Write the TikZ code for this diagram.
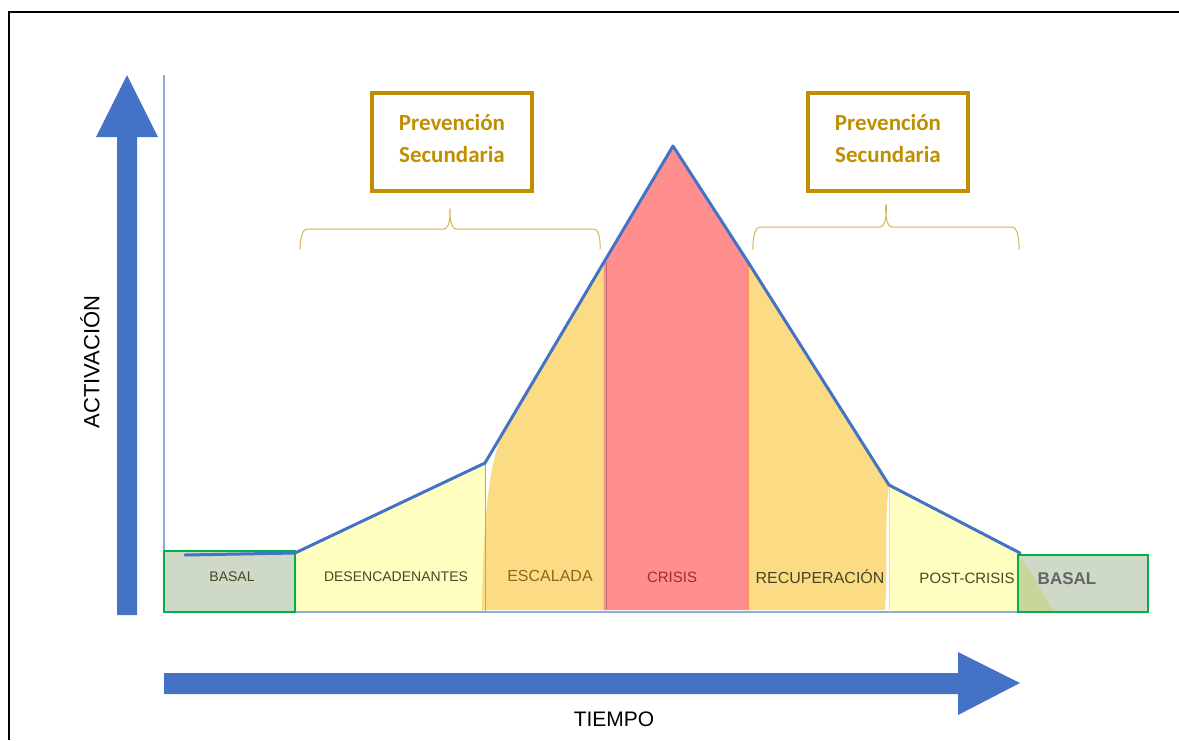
\documentclass[tikz,border=0pt]{standalone}
\usepackage{fontspec}
\setmainfont{Liberation Sans}
\newfontfamily\calibri{Carlito}
\usepackage{tkz-euclide}
\definecolor{ArrowClr}{rgb}{0.267,0.447,0.769}
\definecolor{AxisClr}{rgb}{0.56,0.67,0.86}
\definecolor{BasalClr}{rgb}{0.81,0.85,0.78}
\definecolor{BasalLine}{rgb}{0,0.69,0.31}
\definecolor{MixClr}{rgb}{0.79,0.84,0.6}
\definecolor{PaleClr}{rgb}{1,1,0.76}
\definecolor{WarmClr}{rgb}{0.99,0.86,0.52}
\definecolor{CrisisClr}{rgb}{1,0.56,0.56}
\definecolor{GoldClr}{rgb}{0.75,0.56,0}
\definecolor{BraceClr}{rgb}{0.85,0.7,0.32}
\definecolor{OliveTxt}{rgb}{0.28,0.28,0.14}
\definecolor{WarmTxt}{rgb}{0.52,0.42,0.1}
\definecolor{CrisisTxt}{rgb}{0.62,0.18,0.18}
\definecolor{GrayTxt}{rgb}{0.4,0.4,0.4}

\begin{document}
\begin{tikzpicture}[x=1pt,y=-1pt,
  phase/.style={font=\fontsize{#1}{#1}\selectfont,inner sep=0pt},
  prevbox/.style={draw=GoldClr,line width=4.5pt,minimum width=160pt,minimum height=98pt},
  prevtext/.style={align=center,text=GoldClr,font=\calibri\bfseries\fontsize{23}{32}\selectfont},
  curlyline/.style={BraceClr,line width=1pt}]
\useasboundingbox (0,0) rectangle (1179,740);

% frame
\draw[line width=1.3pt] (9,740) -- (9,12) -- (1179,12);

\tkzDefPoints{185/555/L0,295/553/L1,485/463/K1,604/262/E1,673/146/P,748/262/R1,889/485/K2,1020/553/L2}
\tkzDefPoints{295/612/D0,485/612/D1,604/610/E0,748/610/R0,885/610/Q0,889/612/T0}

% phases
\tkzFillPolygon[fill=PaleClr](L1,K1,D1,D0)
\fill[PaleClr] (K2) -- (L2) .. controls (1035,575) and (1045,600) .. (1055,612) -- (T0) -- cycle;
\fill[WarmClr] (482,610) .. controls (483,530) and (488,470) .. (500,440) -- (E1) -- (E0) -- cycle;
\tkzFillPolygon[fill=CrisisClr](E1,P,R1,R0,E0)
\fill[WarmClr] (R1) -- (K2) .. controls (884,520) and (888,580) .. (Q0) -- (R0) -- cycle;

% basal boxes
\fill[BasalClr] (164,551) rectangle (295,612);
\fill[BasalClr] (1018,555) rectangle (1148,612);
\fill[MixClr] (1018,555) .. controls (1035,575) and (1045,600) .. (1055,612) -- (1018,612) -- cycle;

% separators
\draw[AxisClr,line width=1.2pt] (164,75) -- (164,612) -- (1018,612);
\draw[AxisClr,line width=1pt] (K1) -- (D1);
\draw[yellow!80!orange,line width=1pt] (603,262) -- (603,610);
\draw[CrisisTxt!70,line width=1pt] (606,262) -- (606,610);
\draw[orange!80!red!70,line width=1.5pt] (R1) -- (R0);
\draw[gray!40!green!30,line width=1pt] (K2) -- (T0);
\draw[BasalLine,line width=2.5pt] (164,551) rectangle (295,612);
\draw[BasalLine,line width=2.5pt] (1018,555) rectangle (1148,612);

% activation curve
\tkzDrawPolySeg[color=ArrowClr,line width=3pt,line join=round](L0,L1,K1,E1,P,R1,K2,L2)

% axes arrows
\fill[ArrowClr] (117,615) -- (117,137) -- (96,137) -- (127,75) -- (158,137) -- (137,137) -- (137,615) -- cycle;
\fill[ArrowClr] (164,673) -- (958,673) -- (958,652) -- (1020,683) -- (958,715) -- (958,694) -- (164,694) -- cycle;
\node[rotate=90,font=\fontsize{22}{22}\selectfont] (act) at (90,362) {ACTIVACIÓN};
\node[font=\fontsize{21}{21}\selectfont] (tiempo) at (614,719) {TIEMPO};

% labels
\node[phase=14,text=OliveTxt] (basalA) at (232,577) {BASAL};
\node[phase=14,text=OliveTxt] (desenc) at (396,577) {DESENCADENANTES};
\node[phase=16,text=WarmTxt] (escal) at (550,576) {ESCALADA};
\node[phase=15,text=CrisisTxt] (crisis) at (672,577) {CRISIS};
\node[phase=16,text=OliveTxt] (recup) at (820,577) {RECUPERACIÓN};
\node[phase=15,text=OliveTxt] (post) at (967,578) {POST-CRISIS};
\node[inner sep=0pt,text=GrayTxt,font=\fontsize{17}{17}\selectfont\bfseries] (basalB) at (1067,579) {BASAL};

% prevention
\node[prevbox] (prevA) at (452,142) {};
\node[prevbox] (prevB) at (888,142) {};
\node[prevtext] (prevAtxt) at (452,139) {Prevención\\Secundaria};
\node[prevtext] (prevBtxt) at (888,139) {Prevención\\Secundaria};
\draw[curlyline] (300,248) to[out=-90,in=180] (307,229) -- (444,229) to[out=0,in=90] (450,210)
  to[out=90,in=180] (456,229) -- (594,229) to[out=0,in=-90] (600,248);
\draw[curlyline] (753,248) to[out=-90,in=180] (760,227) -- (880,227) to[out=0,in=90] (886,206)
  to[out=90,in=180] (892,227) -- (1012,227) to[out=0,in=-90] (1019,248);

\end{tikzpicture}
\end{document}
